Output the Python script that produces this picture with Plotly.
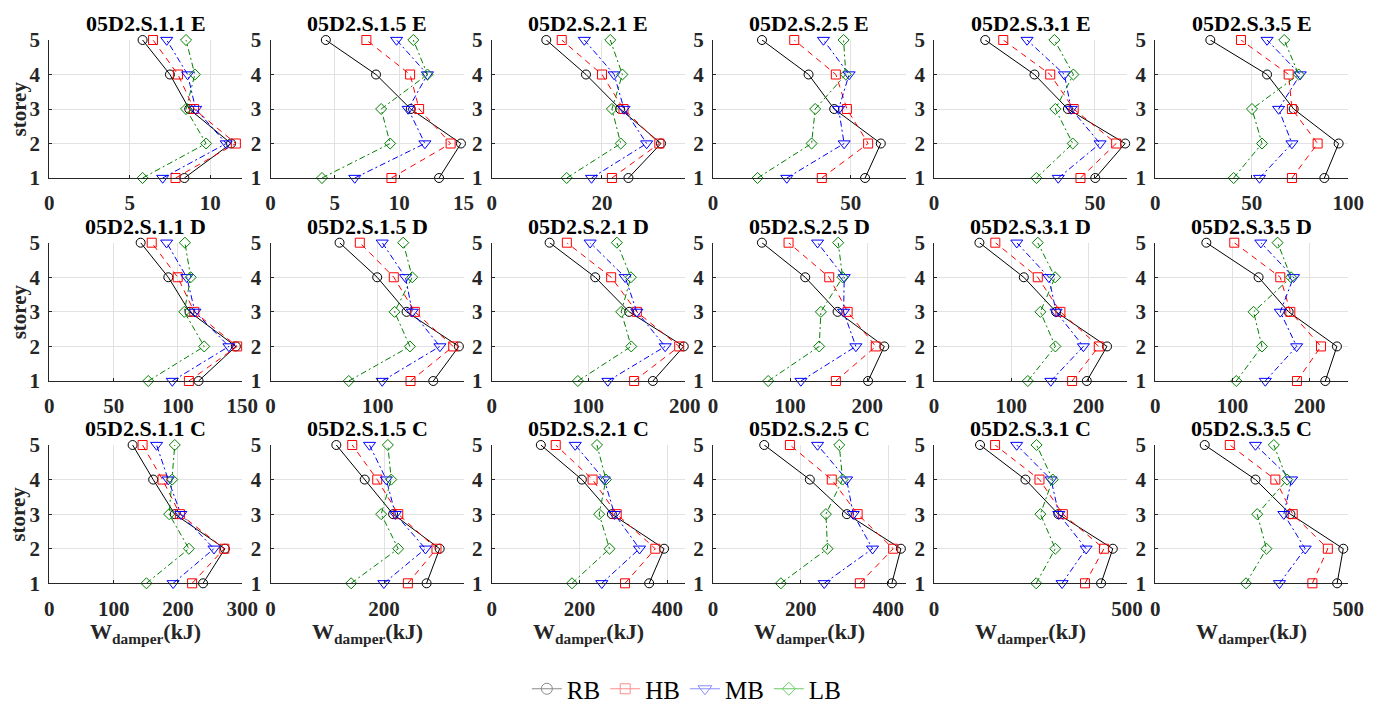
import plotly.graph_objects as go

# Storey numbers (bottom to top)
storeys = [1, 2, 3, 4, 5]

# Model names (columns) and response levels (rows)
models = ["05D2.S.1.1", "05D2.S.1.5", "05D2.S.2.1", "05D2.S.2.5", "05D2.S.3.1", "05D2.S.3.5"]
levels = ["E", "D", "C"]

# Damper energy W_damper (kJ) per storey 1..5, one list per panel (rows E, D, C)
RB = [
    [8.4, 11.3, 8.7, 7.5, 5.8], [13.1, 14.8, 10.9, 8.2, 4.3], [24.8, 30.7, 23.3, 17.1, 9.9],
    [55.2, 60.9, 44.0, 34.7, 17.8], [50.1, 59.4, 41.6, 31.2, 15.9], [87.6, 95.0, 71.7, 57.9, 28.5],
    [116, 145, 109, 92.5, 71], [151.8, 175.7, 126.9, 99.5, 64.4], [167, 199, 142.5, 107.3, 60],
    [201, 222, 161.5, 119.6, 63.5], [197.8, 224, 158, 116.2, 58.7], [220.2, 235.3, 172.7, 133.8, 66.1],
    [239, 273, 195, 161.5, 129.5], [275, 298, 216, 166, 116], [359, 393, 274, 205.6, 112],
    [408, 428.6, 305.5, 221, 117], [432.6, 463, 322, 236.6, 119], [471, 487, 350, 259.5, 128],
]
HB = [
    [7.85, 11.6, 9.0, 8.0, 6.45], [9.4, 14.0, 11.55, 10.85, 7.45], [21.8, 30.4, 23.9, 20.0, 12.7],
    [39.5, 56.3, 48.6, 44.6, 29.5], [45.5, 56.6, 43.4, 36.1, 21.5], [70.8, 84.1, 70.8, 69.1, 44.4],
    [108.5, 146, 112.7, 99.8, 79.6], [130.6, 170.4, 134.6, 115, 83.3], [147.6, 194.3, 150.4, 123.8, 77.9],
    [159.3, 211, 174.5, 150.7, 98], [178.8, 213.3, 163.6, 134.3, 79.3], [183.5, 214.6, 174.9, 161.9, 102.3],
    [222, 272, 203, 176, 145], [242, 292.4, 225, 188, 144], [304, 373, 285, 230, 146],
    [335, 411, 330, 271, 175.6], [391, 440, 333.5, 273, 158], [407, 447, 356, 311, 193],
]
MB = [
    [7.05, 11.0, 9.1, 8.6, 7.3], [6.55, 12.0, 10.7, 12.2, 9.8], [18.1, 28.1, 24.0, 22.2, 16.8],
    [26.8, 47.6, 45.6, 49.4, 40.1], [38.6, 51.6, 42.6, 40.5, 28.9], [54.0, 70.8, 63.9, 75.1, 57.9],
    [95.6, 139.6, 113.2, 106.8, 91.2], [104.2, 158, 132.2, 125.9, 104.2], [120.4, 179.8, 150.4, 138.3, 102],
    [114, 185.2, 169.3, 170.1, 135.6], [151.2, 193.4, 158, 148.6, 107.1], [142.5, 183.1, 161.9, 179.1, 136.7],
    [192.5, 256, 204.5, 184.8, 166.8], [199.7, 273, 220, 204, 174.4], [251, 337, 280, 256.5, 190.4],
    [253.8, 364, 320, 304.8, 238.6], [331.6, 393.8, 323, 303, 214], [321.8, 388.3, 333, 353, 259.5],
]
LB = [
    [5.8, 9.75, 8.5, 9.05, 8.5], [4.0, 9.3, 8.6, 12.2, 11.1], [13.6, 23.4, 21.8, 23.7, 21.5],
    [16.2, 35.8, 37.1, 48.2, 47.4], [31.8, 43.1, 37.7, 43.3, 37.4], [40.6, 55.3, 50.1, 74.3, 66.8],
    [76.9, 120.4, 104.9, 109.9, 105.4], [73, 130, 115.7, 132.2, 123.8], [89.3, 144.6, 134.2, 144.2, 129.7],
    [71.6, 137.7, 139.9, 168, 162.3], [121.4, 157.1, 137.7, 156.7, 134.3], [104.9, 138.2, 127.3, 175.8, 158.4],
    [151, 217, 186.3, 191, 195], [142, 225, 195, 212.7, 206.7], [183, 268.6, 245, 260.4, 240],
    [155, 261.4, 257.6, 295.7, 288], [264.5, 314, 275.4, 307.3, 265.5], [235, 288, 264, 341.6, 307],
]

# Axis limits and tick values for each panel
x_limits = [
    [0, 12], [0, 15], [0, 35], [0, 70], [0, 60], [0, 100],
    [0, 150], [0, 180], [0, 200], [0, 250], [0, 250], [0, 250],
    [0, 300], [0, 340], [0, 440], [0, 440], [0, 500], [0, 500],
]
x_ticks = [
    [0, 5, 10], [0, 5, 10, 15], [0, 20], [0, 50], [0, 50], [0, 50, 100],
    [0, 50, 100, 150], [0, 100], [0, 100, 200], [0, 100, 200], [0, 100, 200], [0, 100, 200],
    [0, 100, 200, 300], [0, 200], [0, 200, 400], [0, 200, 400], [0, 500], [0, 500],
]

W, H = 1381, 704
FONT = "Liberation Serif"
AX_COLOR = "#262626"
GRID_COLOR = "#e2e2e2"

# name, data, colour, dash, marker, marker size, legend colour, legend marker size
series = [
    ("RB", RB, "black", "solid", "circle-open", 9, "#8a8a8a", 11),
    ("HB", HB, "#ff0000", "6px,5px", "square-open", 9, "#ff8c8c", 10),
    ("MB", MB, "#0000ff", "6px,3px,2px,3px", "triangle-down-open", 10.5, "#8c8cff", 12),
    ("LB", LB, "#008000", "6px,3px,2px,3px", "diamond-open", 8.5, "#66cc66", 10),
]

col_left = [49.3 + 221.2 * c for c in range(6)]
panel_w = 193.0
row_tb = [(40.0, 178.0), (242.7, 381.0), (445.0, 583.3)]

fig = go.Figure()
layout = dict(
    width=W, height=H,
    margin=dict(l=0, r=0, t=0, b=0, autoexpand=False),
    paper_bgcolor="white", plot_bgcolor="white",
    font=dict(family=FONT, size=21, color="black"),
    showlegend=True,
)
annotations = []

for r in range(3):
    top_px, bot_px = row_tb[r]
    ydom = [(H - bot_px) / H, (H - top_px) / H]
    for c in range(6):
        k = r * 6 + c
        suffix = "" if k == 0 else str(k + 1)
        xdom = [col_left[c] / W, (col_left[c] + panel_w) / W]
        for name, data, color, dash, symbol, msize, _, _ in series:
            fig.add_trace(go.Scatter(
                x=data[k], y=storeys, mode="lines+markers",
                xaxis="x" + suffix, yaxis="y" + suffix,
                line=dict(color=color, width=1, dash=dash),
                marker=dict(symbol=symbol, size=msize, color=color, line=dict(width=1, color=color)),
                cliponaxis=False, showlegend=False, name=name,
            ))
        layout["xaxis" + suffix] = dict(
            domain=xdom, anchor="y" + suffix, range=x_limits[k],
            tickmode="array", tickvals=x_ticks[k],
            showgrid=True, gridcolor=GRID_COLOR, gridwidth=1, zeroline=False,
            showline=True, linecolor=AX_COLOR, linewidth=1,
            ticks="inside", ticklen=3, tickcolor=AX_COLOR,
            tickfont=dict(family=FONT, size=21, color=AX_COLOR, weight="bold"),
            ticklabelstandoff=6,
        )
        layout["yaxis" + suffix] = dict(
            domain=ydom, anchor="x" + suffix, range=[1, 5],
            tickmode="array", tickvals=storeys,
            showgrid=True, gridcolor=GRID_COLOR, gridwidth=1, zeroline=False,
            showline=True, linecolor=AX_COLOR, linewidth=1,
            ticks="inside", ticklen=3, tickcolor=AX_COLOR,
            tickfont=dict(family=FONT, size=21, color=AX_COLOR, weight="bold"),
            ticklabelstandoff=4,
        )
        # panel title
        annotations.append(dict(
            text=f"{models[c]} {levels[r]}", xref="paper", yref="paper",
            x=(xdom[0] + xdom[1]) / 2, y=ydom[1], xanchor="center", yanchor="bottom",
            yshift=2, showarrow=False,
            font=dict(family=FONT, size=22, color="black", weight="bold"),
        ))
        if r == 2:
            annotations.append(dict(
                text="W<sub>damper</sub>(kJ)", xref="paper", yref="paper",
                x=(xdom[0] + xdom[1]) / 2, y=ydom[0], xanchor="center", yanchor="top",
                yshift=-34, showarrow=False,
                font=dict(family=FONT, size=22, color=AX_COLOR, weight="bold"),
            ))
    annotations.append(dict(
        text="storey", xref="paper", yref="paper", textangle=-90,
        x=18.5 / W, y=(ydom[0] + ydom[1]) / 2, xanchor="center", yanchor="middle",
        showarrow=False, font=dict(family=FONT, size=21, color=AX_COLOR, weight="bold"),
    ))

# legend entries
for name, data, color, dash, symbol, msize, lcolor, lsize in series:
    fig.add_trace(go.Scatter(
        x=[None], y=[None], mode="lines+markers", name=name,
        line=dict(color=lcolor, width=1, dash="solid"),
        marker=dict(symbol=symbol, size=lsize, color=lcolor, line=dict(width=1, color=lcolor)),
        showlegend=True,
    ))

layout["legend"] = dict(
    orientation="h", x=0.497, y=(H - 689) / H, xanchor="center", yanchor="middle",
    font=dict(family=FONT, size=25, color="black"),
    itemwidth=30, tracegroupgap=0, bgcolor="rgba(0,0,0,0)",
)
layout["annotations"] = annotations
fig.update_layout(**layout)

fig.write_html("out.html")
